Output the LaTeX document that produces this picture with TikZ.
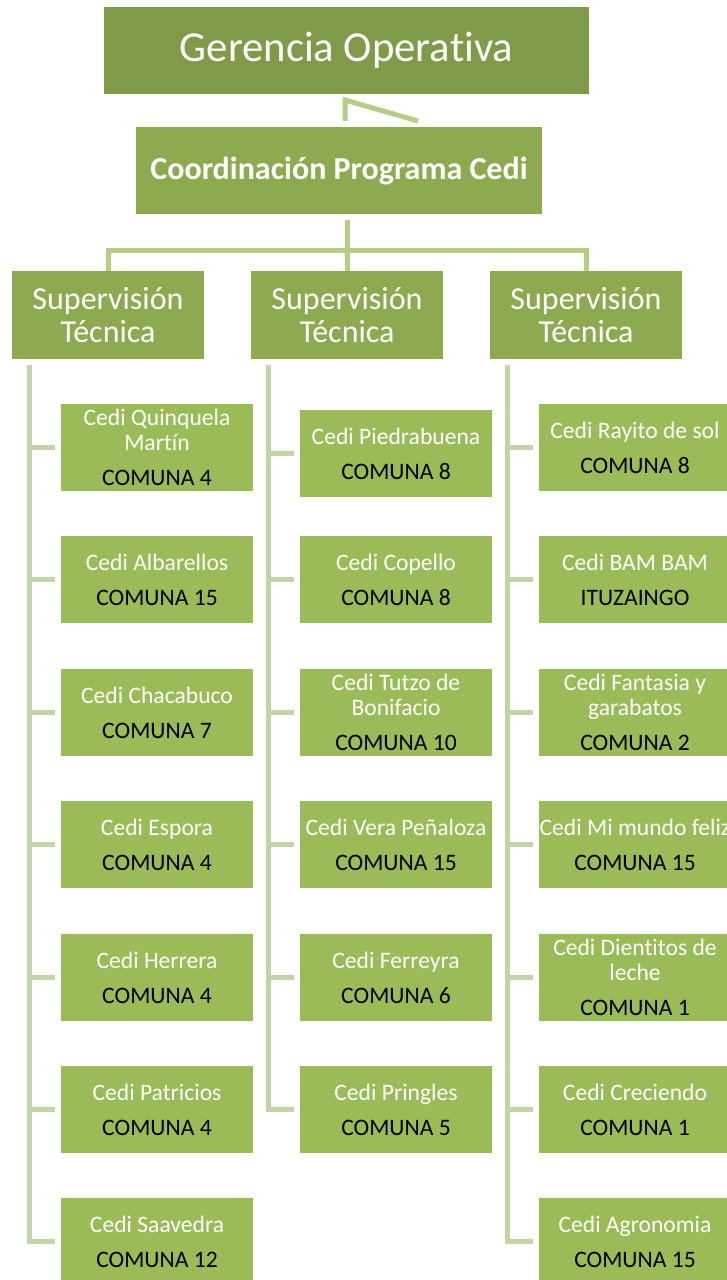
\documentclass[tikz,border=0pt]{standalone}
\usepackage{fontspec}
\setmainfont{Carlito}[Ligatures=NoCommon]
\usepackage{tikz}
\definecolor{oliveDark}{HTML}{7F9A48}
\definecolor{oliveMid}{HTML}{8DAA51}
\definecolor{oliveLight}{HTML}{9BBB59}
\definecolor{linkGreen}{HTML}{B5CD85}
\definecolor{stemGreen}{HTML}{C3D5A6}

\begin{document}
\begin{tikzpicture}[x=1pt,y=-1pt,
  bossbox/.style={shape=rectangle,fill=oliveDark,text=white,minimum width=485pt,minimum height=87pt,inner sep=0pt,font=\fontsize{42.7}{44}\selectfont},
  coordbox/.style={shape=rectangle,fill=oliveMid,text=white,minimum width=406pt,minimum height=87pt,inner sep=0pt,font=\bfseries\fontsize{32}{34}\selectfont},
  supbox/.style={shape=rectangle,fill=oliveMid,text=white,minimum width=192pt,minimum height=88pt,inner sep=0pt,align=center,font=\fontsize{32}{33}\selectfont},
  cedibox/.style={shape=rectangle,fill=oliveLight,text=white,minimum width=192pt,minimum height=87pt,inner sep=0pt,align=center,font=\fontsize{23.6}{25}\selectfont},
  link/.style={draw=linkGreen,line width=5pt},
  stem/.style={draw=stemGreen,line width=5pt}]
  \useasboundingbox (0,0) rectangle (727,1280);

  \node[bossbox] (ger) at (346.5,50.5) {Gerencia Operativa};
  \node[coordbox] (coord) at (339,170.5) {Coordinación Programa Cedi};

  \node[supbox] (sup1) at (108,315) {Supervisión\\Técnica};
  \node[supbox] (sup2) at (347,315) {Supervisión\\Técnica};
  \node[supbox] (sup3) at (586,315) {Supervisión\\Técnica};

  \node[cedibox] (c11) at (157,447.5) {Cedi Quinquela\\Martín\\[10pt]\textcolor{black}{COMUNA 4}};
  \node[cedibox] (c12) at (157,579.5) {Cedi Albarellos\\[10pt]\textcolor{black}{COMUNA 15}};
  \node[cedibox] (c13) at (157,712.5) {Cedi Chacabuco\\[10pt]\textcolor{black}{COMUNA 7}};
  \node[cedibox] (c14) at (157,844.5) {Cedi Espora\\[10pt]\textcolor{black}{COMUNA 4}};
  \node[cedibox] (c15) at (157,977.5) {Cedi Herrera\\[10pt]\textcolor{black}{COMUNA 4}};
  \node[cedibox] (c16) at (157,1109.5) {Cedi Patricios\\[10pt]\textcolor{black}{COMUNA 4}};
  \node[cedibox] (c17) at (157,1241.5) {Cedi Saavedra\\[10pt]\textcolor{black}{COMUNA 12}};

  \node[cedibox] (c21) at (396,453.5) {Cedi Piedrabuena\\[10pt]\textcolor{black}{COMUNA 8}};
  \node[cedibox] (c22) at (396,579.5) {Cedi Copello\\[10pt]\textcolor{black}{COMUNA 8}};
  \node[cedibox] (c23) at (396,712.5) {Cedi Tutzo de\\Bonifacio\\[10pt]\textcolor{black}{COMUNA 10}};
  \node[cedibox] (c24) at (396,844.5) {Cedi Vera Peñaloza\\[10pt]\textcolor{black}{COMUNA 15}};
  \node[cedibox] (c25) at (396,977.5) {Cedi Ferreyra\\[10pt]\textcolor{black}{COMUNA 6}};
  \node[cedibox] (c26) at (396,1109.5) {Cedi Pringles\\[10pt]\textcolor{black}{COMUNA 5}};

  \node[cedibox] (c31) at (635,447.5) {Cedi Rayito de sol\\[10pt]\textcolor{black}{COMUNA 8}};
  \node[cedibox] (c32) at (635,579.5) {Cedi BAM BAM\\[10pt]\textcolor{black}{ITUZAINGO}};
  \node[cedibox] (c33) at (635,712.5) {Cedi Fantasia y\\garabatos\\[10pt]\textcolor{black}{COMUNA 2}};
  \node[cedibox] (c34) at (635,844.5) {Cedi Mi mundo feliz\\[10pt]\textcolor{black}{COMUNA 15}};
  \node[cedibox] (c35) at (635,977.5) {Cedi Dientitos de\\leche\\[10pt]\textcolor{black}{COMUNA 1}};
  \node[cedibox] (c36) at (635,1109.5) {Cedi Creciendo\\[10pt]\textcolor{black}{COMUNA 1}};
  \node[cedibox] (c37) at (635,1241.5) {Cedi Agronomia\\[10pt]\textcolor{black}{COMUNA 15}};

  \coordinate (kink) at (345,100);
  \coordinate (kinkend) at (418,121);
  \coordinate (bus) at (347,250);
  \coordinate (col1) at (29,365);
  \coordinate (col2) at (268,365);
  \coordinate (col3) at (507,365);

  \draw[link,shorten <=6pt] (kink |- coord.north) -- (kink) -- (kinkend);
  \draw[link,shorten <=6pt] (coord.south -| bus) -- (bus);
  \draw[link] (sup1.north) |- (bus) -| (sup3.north);
  \draw[link] (sup2.north) -- (bus);

  \draw[stem,shorten >=6pt] (col1) |- (c17.west);
  \draw[stem,shorten >=6pt] (c11.west -| col1) -- (c11.west);
  \draw[stem,shorten >=6pt] (c12.west -| col1) -- (c12.west);
  \draw[stem,shorten >=6pt] (c13.west -| col1) -- (c13.west);
  \draw[stem,shorten >=6pt] (c14.west -| col1) -- (c14.west);
  \draw[stem,shorten >=6pt] (c15.west -| col1) -- (c15.west);
  \draw[stem,shorten >=6pt] (c16.west -| col1) -- (c16.west);

  \draw[stem,shorten >=6pt] (col2) |- (c26.west);
  \draw[stem,shorten >=6pt] (c21.west -| col2) -- (c21.west);
  \draw[stem,shorten >=6pt] (c22.west -| col2) -- (c22.west);
  \draw[stem,shorten >=6pt] (c23.west -| col2) -- (c23.west);
  \draw[stem,shorten >=6pt] (c24.west -| col2) -- (c24.west);
  \draw[stem,shorten >=6pt] (c25.west -| col2) -- (c25.west);

  \draw[stem,shorten >=6pt] (col3) |- (c37.west);
  \draw[stem,shorten >=6pt] (c31.west -| col3) -- (c31.west);
  \draw[stem,shorten >=6pt] (c32.west -| col3) -- (c32.west);
  \draw[stem,shorten >=6pt] (c33.west -| col3) -- (c33.west);
  \draw[stem,shorten >=6pt] (c34.west -| col3) -- (c34.west);
  \draw[stem,shorten >=6pt] (c35.west -| col3) -- (c35.west);
  \draw[stem,shorten >=6pt] (c36.west -| col3) -- (c36.west);
\end{tikzpicture}
\end{document}
